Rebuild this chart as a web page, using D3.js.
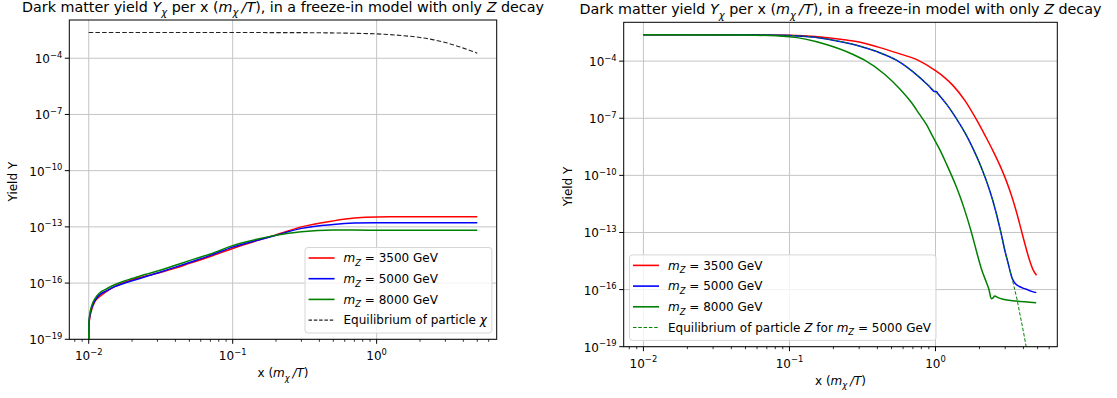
<!DOCTYPE html>
<html>
<head>
<meta charset="utf-8">
<script src="https://cdn.jsdelivr.net/npm/d3@7"></script>
<style>
  body { margin: 0; background: #fff; }
  svg { display: block; font-family: "DejaVu Sans", sans-serif; }
  text { white-space: pre; }
</style>
</head>
<body>
<svg id="chart" width="1117" height="398"></svg>
<script>
// ---- data (yields stored as log10 Y) ----
const xSpan = [0.01, 5];
const yBottom = 1e-19;
const yTopExp = -1.96;
const xMajor = [1e-2, 1e-1, 1e0];
const yMajor = [1e-19, 1e-16, 1e-13, 1e-10, 1e-7, 1e-4];
const massLabels = ["3500", "5000", "8000"];
const massColors = ["#ff0000", "#0000ff", "#008000"];

// left panel: freeze-in of chi
const xLeft = [0.01, 0.01005, 0.0102, 0.0105, 0.011, 0.012, 0.013, 0.015, 0.0175, 0.02, 0.025, 0.03, 0.04, 0.05, 0.07, 0.1, 0.15, 0.2, 0.3, 0.5, 0.7, 1, 2, 3, 5];
const logYLeft3500 = [-19, -18.2, -17.8, -17.4, -17.0, -16.7, -16.5, -16.2, -15.98, -15.82, -15.62, -15.48, -15.2, -14.95, -14.58, -14.15, -13.72, -13.43, -13.0, -12.68, -12.53, -12.47, -12.46, -12.46, -12.46];
const logYLeft5000 = [-19, -18.1, -17.7, -17.3, -16.95, -16.6, -16.45, -16.2, -16.02, -15.88, -15.65, -15.46, -15.15, -14.9, -14.52, -14.08, -13.7, -13.45, -13.08, -12.87, -12.8, -12.78, -12.78, -12.78, -12.78];
const logYLeft8000 = [-19, -18.0, -17.6, -17.2, -16.85, -16.5, -16.35, -16.1, -15.9, -15.76, -15.53, -15.36, -15.05, -14.8, -14.45, -14.0, -13.65, -13.45, -13.26, -13.17, -13.17, -13.18, -13.18, -13.18, -13.18];
const xEqChi = [0.01, 0.1, 0.3, 0.5, 0.7, 1, 1.5, 2, 2.5, 3, 3.5, 4, 4.5, 5];
const logYEqChi = [-2.63, -2.63, -2.635, -2.65, -2.67, -2.70, -2.79, -2.89, -3.02, -3.16, -3.31, -3.46, -3.6, -3.73];

// right panel: Z yields
const xRight3500 = [0.01, 0.05, 0.1, 0.15, 0.23, 0.3, 0.4, 0.55, 0.757, 1.0, 1.15, 1.31, 1.6, 1.9, 2.2, 2.46, 2.75, 3.04, 3.3, 3.56, 3.82, 4.1, 4.4, 4.65, 4.92];
const logYRight3500 = [-2.62, -2.62, -2.64, -2.7, -2.86, -3.0, -3.25, -3.58, -3.95, -4.5, -4.85, -5.26, -6.1, -7.05, -7.95, -8.67, -9.45, -10.25, -11.02, -11.85, -12.72, -13.62, -14.45, -14.95, -15.25];
const xRight5000 = [0.01, 0.05, 0.1, 0.15, 0.23, 0.3, 0.4, 0.54, 0.634, 0.778, 0.9, 0.99, 1.01, 1.05, 1.2, 1.38, 1.6, 1.8, 2.0, 2.22, 2.4, 2.53, 2.8, 2.97, 3.15, 3.32, 3.45, 3.61, 3.9, 4.18, 4.5, 4.9];
const logYRight5000 = [-2.62, -2.62, -2.65, -2.75, -2.99, -3.2, -3.51, -3.95, -4.3, -4.85, -5.3, -5.6, -5.6, -5.75, -6.3, -6.98, -7.8, -8.57, -9.35, -10.25, -11.02, -11.62, -12.98, -13.88, -14.65, -15.32, -15.6, -15.76, -15.9, -15.98, -16.08, -16.16];
const xRight8000 = [0.01, 0.05, 0.1, 0.174, 0.273, 0.327, 0.45, 0.568, 0.68, 0.778, 0.87, 0.959, 1.07, 1.18, 1.38, 1.47, 1.58, 1.74, 1.85, 2.06, 2.23, 2.32, 2.41, 2.47, 2.54, 2.68, 2.9, 3.57, 4.89];
const logYRight8000 = [-2.62, -2.63, -2.72, -3.1, -3.65, -3.95, -4.7, -5.45, -6.15, -6.8, -7.35, -7.97, -8.65, -9.35, -10.55, -11.1, -11.8, -12.85, -13.6, -14.9, -15.62, -15.98, -16.48, -16.45, -16.34, -16.42, -16.51, -16.6, -16.69];
const xEqZ = [0.01, 0.05, 0.1, 0.15, 0.23, 0.3, 0.4, 0.54, 0.634, 0.778, 0.9, 1.0, 1.2, 1.38, 1.6, 1.8, 2.0, 2.22, 2.4, 2.53, 2.8, 2.97, 3.15, 3.32, 3.45, 3.6, 3.8, 4.0, 4.18, 4.3];
const logYEqZ = [-2.62, -2.62, -2.65, -2.75, -2.99, -3.2, -3.51, -3.95, -4.3, -4.85, -5.3, -5.62, -6.3, -6.98, -7.8, -8.57, -9.35, -10.25, -11.02, -11.62, -12.98, -13.88, -14.65, -15.32, -15.85, -16.45, -17.36, -18.22, -19.0, -19.45];

// ---- helpers ----
const svg = d3.select("#chart");
svg.append("rect").attr("width", 1117).attr("height", 398).attr("fill", "#fff");

function logPad(lo, hi, m) {
  const a = Math.log10(lo), b = Math.log10(hi), p = (b - a) * m;
  return [10 ** (a - p), 10 ** (b + p)];
}
const xDomain = logPad(xSpan[0], xSpan[1], 0.05);
const yDomain = [yBottom, 10 ** yTopExp];

// tiny mathtext: parts are strings or [text, flags]
function rich(sel, parts, size) {
  let shift = 0;
  parts.forEach(p => {
    const [txt, flags] = typeof p === "string" ? [p, ""] : p;
    const ts = sel.append("tspan").text(txt);
    let target = 0, fs = size;
    if (flags.includes("sub")) { target = size * 0.3; fs = size * 0.7; }
    if (flags.includes("sup")) { target = -size * 0.45; fs = size * 0.7; }
    if (flags.includes("it")) ts.attr("font-style", "italic");
    ts.attr("font-size", fs);
    if (target !== shift) {
      ts.attr("dy", target - shift);
      // italic glyph right after a subscript needs a little room
      if (shift > 0 && target === 0 && flags.includes("it")) ts.attr("dx", size * 0.22);
      shift = target;
    }
  });
}
const pow10 = v => {
  const e = Math.round(Math.log10(v));
  return ["10", [(e < 0 ? "\u2212" : "") + Math.abs(e), "sup"]];
};
const toPts = (xs, ys) => xs.map((v, i) => [v, 10 ** ys[i]]);

const titleParts = ["Dark matter yield ", ["Y", "it"], ["\u03c7", "it sub"], " per x (", ["m", "it"], ["\u03c7", "it sub"], ["/T", "it"], "), in a freeze-in model with only ", ["Z", "it"], " decay"];
const xLabelParts = ["x (", ["m", "it"], ["\u03c7", "it sub"], ["/T", "it"], ")"];
const massParts = m => [["m", "it"], ["Z", "it sub"], " = " + m + " GeV"];

function panel(id, box, curves, eq, legendItems, legendSide) {
  const x = d3.scaleLog().domain(xDomain).range([box.left, box.right]);
  const y = d3.scaleLog().domain(yDomain).range([box.bottom, box.top]);
  const g = svg.append("g");

  g.append("clipPath").attr("id", id).append("rect")
    .attr("x", box.left).attr("y", box.top)
    .attr("width", box.right - box.left).attr("height", box.bottom - box.top);

  // grid
  g.selectAll(null).data(xMajor).join("line")
    .attr("x1", d => x(d)).attr("x2", d => x(d))
    .attr("y1", box.top).attr("y2", box.bottom)
    .attr("stroke", "#c4c4c4").attr("stroke-width", 1);
  g.selectAll(null).data(yMajor).join("line")
    .attr("y1", d => y(d)).attr("y2", d => y(d))
    .attr("x1", box.left).attr("x2", box.right)
    .attr("stroke", "#c4c4c4").attr("stroke-width", 1);

  // curves
  const line = d3.line().x(d => x(d[0])).y(d => y(d[1])).curve(d3.curveMonotoneX);
  const plot = g.append("g").attr("clip-path", `url(#${id})`);
  curves.forEach((c, i) => {
    plot.append("path").datum(c).attr("d", line)
      .attr("fill", "none").attr("stroke", massColors[i]).attr("stroke-width", 1.5);
  });
  plot.append("path").datum(eq.pts).attr("d", line)
    .attr("fill", "none").attr("stroke", eq.color)
    .attr("stroke-width", eq.width).attr("stroke-dasharray", eq.dash);

  // frame
  g.append("rect").attr("x", box.left).attr("y", box.top)
    .attr("width", box.right - box.left).attr("height", box.bottom - box.top)
    .attr("fill", "none").attr("stroke", "#000").attr("stroke-width", 1);

  // x ticks
  const minor = [];
  for (let e = -3; e <= 0; e++) for (let k = 2; k <= 9; k++) {
    const v = k * 10 ** e;
    if (v > xDomain[0] && v < xDomain[1]) minor.push(v);
  }
  g.selectAll(null).data(minor).join("line")
    .attr("x1", d => x(d)).attr("x2", d => x(d))
    .attr("y1", box.bottom).attr("y2", box.bottom + 2.5)
    .attr("stroke", "#000").attr("stroke-width", 0.8);
  g.selectAll(null).data(xMajor).join("line")
    .attr("x1", d => x(d)).attr("x2", d => x(d))
    .attr("y1", box.bottom).attr("y2", box.bottom + 4.5)
    .attr("stroke", "#000").attr("stroke-width", 1);
  g.selectAll(null).data(xMajor).join("text")
    .attr("x", d => x(d)).attr("y", box.bottom + 21)
    .attr("text-anchor", "middle").attr("fill", "#000")
    .each(function (d) { rich(d3.select(this), pow10(d), 12); });

  // y ticks
  g.selectAll(null).data(yMajor).join("line")
    .attr("y1", d => y(d)).attr("y2", d => y(d))
    .attr("x1", box.left - 4.5).attr("x2", box.left)
    .attr("stroke", "#000").attr("stroke-width", 1);
  g.selectAll(null).data(yMajor).join("text")
    .attr("x", box.left - 7).attr("y", d => y(d) + 5)
    .attr("text-anchor", "end").attr("fill", "#000")
    .each(function (d) { rich(d3.select(this), pow10(d), 12); });

  // labels
  const cx = (box.left + box.right) / 2;
  rich(g.append("text").attr("x", cx).attr("y", box.top - 8).attr("text-anchor", "middle"), titleParts, 14.3);
  rich(g.append("text").attr("x", cx).attr("y", box.bottom + 38).attr("text-anchor", "middle"), xLabelParts, 12);
  g.append("text").attr("transform", `translate(${box.left - 52},${(box.top + box.bottom) / 2 + 2}) rotate(-90)`)
    .attr("text-anchor", "middle").attr("font-size", 12).text("Yield Y");

  // legend
  const lg = g.append("g");
  const bg = lg.append("rect");
  const rowH = 20.7;
  let maxW = 0;
  legendItems.forEach((it, i) => {
    const cy = 10.5 + i * rowH;
    lg.append("line").attr("x1", 3.5).attr("x2", 29.5).attr("y1", cy).attr("y2", cy)
      .attr("stroke", it.color).attr("stroke-width", it.width)
      .attr("stroke-dasharray", it.dash || null);
    const t = lg.append("text").attr("x", 38.5).attr("y", cy + 4.3);
    rich(t, it.parts, 12);
    maxW = Math.max(maxW, t.node().getComputedTextLength());
  });
  const bw = 38.5 + maxW + 5, bh = 85.5;
  bg.attr("width", bw).attr("height", bh).attr("rx", 3)
    .attr("fill", "#fff").attr("fill-opacity", 0.8)
    .attr("stroke", "#d6d6d6").attr("stroke-width", 1);
  const lx = legendSide === "right" ? box.right - 4.8 - bw : box.left + 5.8;
  const ly = box.bottom - 6.3 - bh;
  lg.attr("transform", `translate(${lx},${ly})`);
}

const massItems = massLabels.map((m, i) => ({ color: massColors[i], width: 1.6, parts: massParts(m) }));

panel("clipL", { left: 69.3, right: 496.7, top: 20, bottom: 339.3 },
  [toPts(xLeft, logYLeft3500), toPts(xLeft, logYLeft5000), toPts(xLeft, logYLeft8000)],
  { pts: toPts(xEqChi, logYEqChi), color: "#222", width: 1.1, dash: "4.5,2.2" },
  massItems.concat([{ color: "#222", width: 1.1, dash: "3.5,1.8", parts: ["Equilibrium of particle ", ["\u03c7", "it"]] }]),
  "right");

panel("clipR", { left: 623.7, right: 1057.3, top: 22.3, bottom: 346.7 },
  [toPts(xRight3500, logYRight3500), toPts(xRight5000, logYRight5000), toPts(xRight8000, logYRight8000)],
  { pts: toPts(xEqZ, logYEqZ), color: "#008000", width: 1, dash: "3.5,1.8" },
  massItems.concat([{ color: "#008000", width: 1, dash: "3.5,1.8", parts: ["Equilibrium of particle ", ["Z", "it"], " for ", ["m", "it"], ["Z", "it sub"], " = 5000 GeV"] }]),
  "left");
</script>
</body>
</html>
